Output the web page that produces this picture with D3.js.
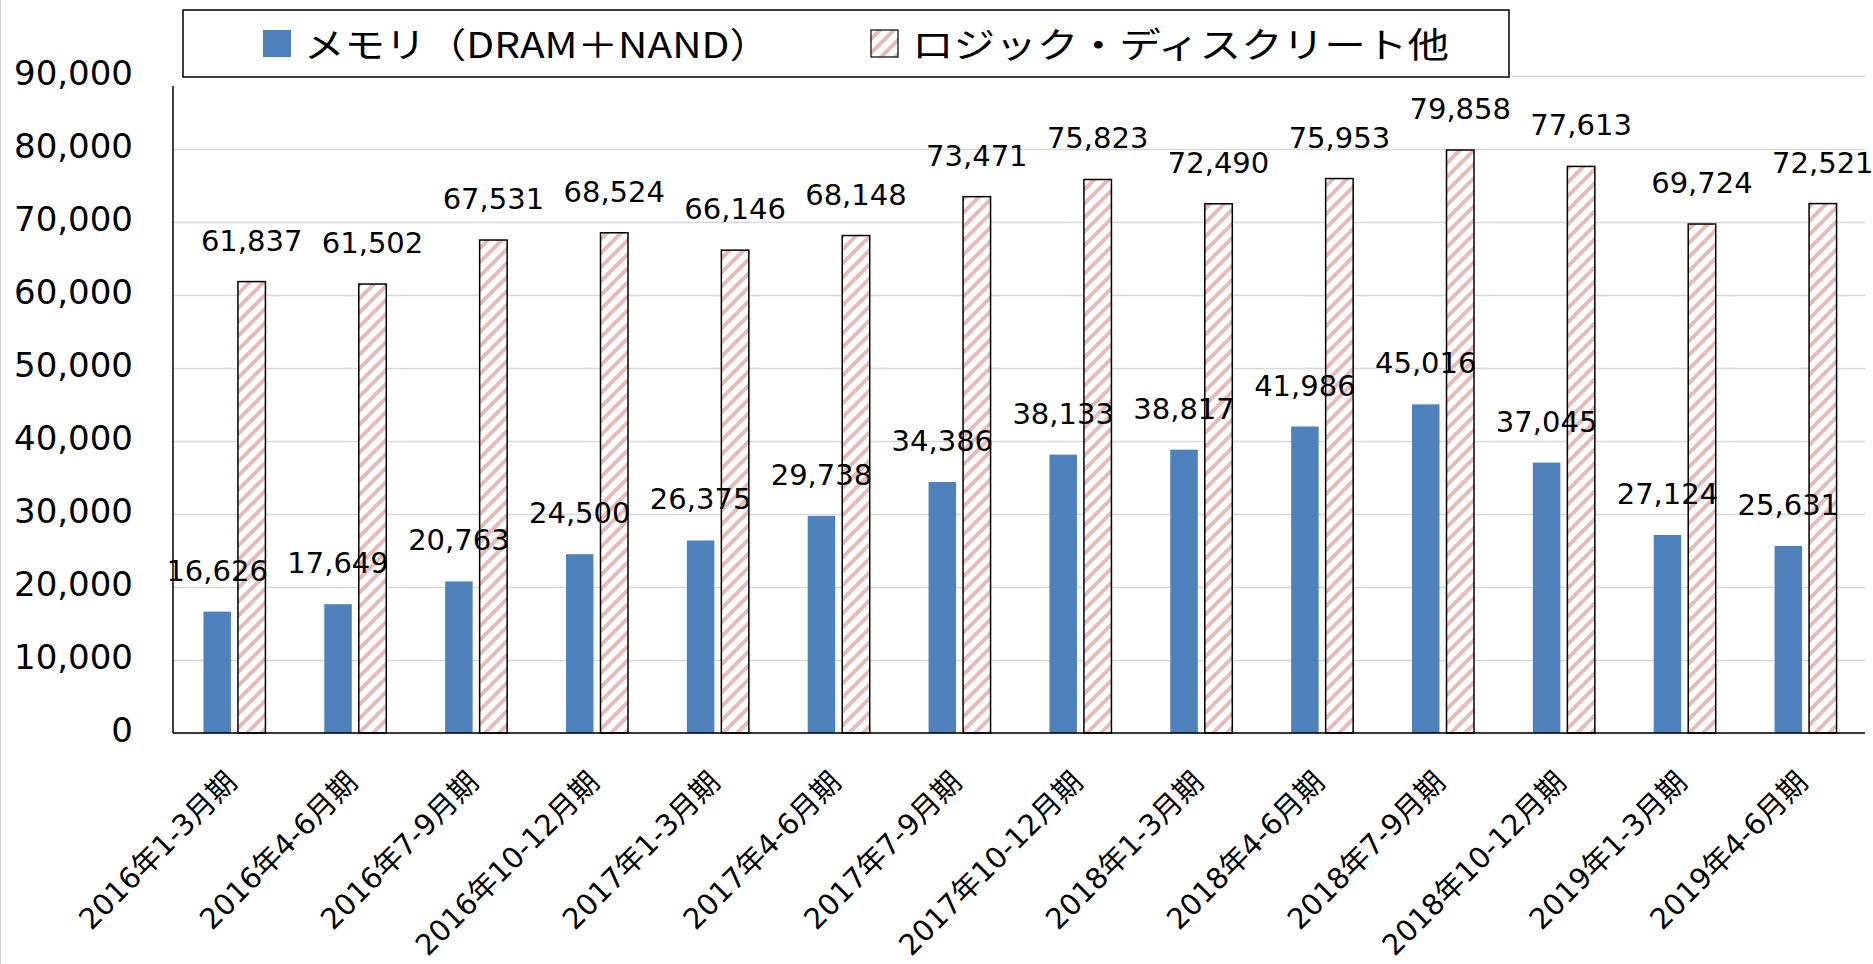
<!DOCTYPE html>
<html>
<head>
<meta charset="utf-8">
<script src="https://cdn.jsdelivr.net/npm/d3@7"></script>
<style>
	body { margin: 0; background: #fff; }
	text { fill: #000; }
</style>
</head>
<body>
<div id="content"></div>
<script>

// quarter labels
var categories = [
	"2016年1-3月期", "2016年4-6月期", "2016年7-9月期", "2016年10-12月期",
	"2017年1-3月期", "2017年4-6月期", "2017年7-9月期", "2017年10-12月期",
	"2018年1-3月期", "2018年4-6月期", "2018年7-9月期", "2018年10-12月期",
	"2019年1-3月期", "2019年4-6月期"
];

var memory = [16626, 17649, 20763, 24500, 26375, 29738, 34386, 38133, 38817, 41986, 45016, 37045, 27124, 25631];
var logic = [61837, 61502, 67531, 68524, 66146, 68148, 73471, 75823, 72490, 75953, 79858, 77613, 69724, 72521];

var seriesNames = ["メモリ（DRAM＋NAND）", "ロジック・ディスクリート他"];
var yTicks = [0, 10000, 20000, 30000, 40000, 50000, 60000, 70000, 80000, 90000];

var numFont = "'DejaVu Sans', Verdana, sans-serif";
var jpFont = "'DejaVu Sans', 'Noto Sans CJK JP', sans-serif";

function main() {
	var svgWidth = 1873;
	var svgHeight = 964;

	var plot = { left: 173, right: 1865, top: 76, bottom: 733 };

	var svg = d3.select("#content")
		.append("svg")
		.attr("width", svgWidth)
		.attr("height", svgHeight);

	// hatch pattern for the logic series
	var step = 14;
	var defs = svg.append("defs");
	var hatch = defs.append("pattern")
		.attr("id", "hatch")
		.attr("patternUnits", "userSpaceOnUse")
		.attr("width", step)
		.attr("height", step);
	hatch.append("rect")
		.attr("width", step)
		.attr("height", step)
		.attr("fill", "#fff");
	hatch.append("path")
		.attr("d", `M-3,3 L3,-3 M0,${step} L${step},0 M${step - 3},${step + 3} L${step + 3},${step - 3}`)
		.attr("stroke", "#e8baba")
		.attr("stroke-width", 4);

	// faint chart border on the left edge
	svg.append("line")
		.attr("x1", 0.5).attr("x2", 0.5)
		.attr("y1", 0).attr("y2", svgHeight)
		.attr("stroke", "#d0d0d0");

	var x = d3.scaleBand()
		.domain(categories)
		.range([plot.left, plot.right]);

	var inner = d3.scaleBand()
		.domain(["memory", "logic"])
		.range([-30, 32])
		.paddingInner(0.203);

	var y = d3.scaleLinear()
		.domain([0, 90000])
		.range([plot.bottom, plot.top]);

	// gridlines
	svg.append("g")
		.attr("transform", `translate(${plot.left}, 0)`)
		.call(d3.axisLeft(y).tickValues(yTicks).tickSize(-(plot.right - plot.left)).tickFormat(""))
		.call(function (g) {
			g.select(".domain").remove();
			g.selectAll("line").attr("stroke", "#d9d9d9").attr("stroke-width", 1.5);
		});

	// y tick labels
	svg.append("g")
		.attr("transform", `translate(${plot.left}, 0)`)
		.call(d3.axisLeft(y).tickValues(yTicks).tickSize(0).tickPadding(40).tickFormat(d3.format(",")))
		.call(function (g) {
			g.select(".domain").remove();
			g.selectAll("text")
				.attr("dy", "0.24em")
				.style("font-family", numFont)
				.style("font-size", "34px")
				.attr("fill", "#000");
		});

	var rows = categories.map(function (c, i) {
		return { cat: c, memory: memory[i], logic: logic[i] };
	});

	// memory bars
	svg.append("g")
		.selectAll("rect")
		.data(rows)
		.enter()
		.append("rect")
		.attr("x", function (d) { return x(d.cat) + x.bandwidth() / 2 + inner("memory"); })
		.attr("y", function (d) { return y(d.memory); })
		.attr("width", inner.bandwidth())
		.attr("height", function (d) { return y(0) - y(d.memory); })
		.attr("fill", "#4f81bd");

	// logic bars
	svg.append("g")
		.selectAll("rect")
		.data(rows)
		.enter()
		.append("rect")
		.attr("x", function (d) { return x(d.cat) + x.bandwidth() / 2 + inner("logic"); })
		.attr("y", function (d) { return y(d.logic); })
		.attr("width", inner.bandwidth())
		.attr("height", function (d) { return y(0) - y(d.logic); })
		.attr("fill", "url(#hatch)")
		.attr("stroke", "#000")
		.attr("stroke-width", 1.5);

	// axis lines
	svg.append("line")
		.attr("x1", plot.left).attr("x2", plot.left)
		.attr("y1", plot.top).attr("y2", plot.bottom)
		.attr("stroke", "#000").attr("stroke-width", 1.5);
	svg.append("line")
		.attr("x1", plot.left).attr("x2", plot.right)
		.attr("y1", plot.bottom).attr("y2", plot.bottom)
		.attr("stroke", "#000").attr("stroke-width", 1.5);

	// value labels
	["memory", "logic"].forEach(function (key) {
		svg.append("g")
			.selectAll("text")
			.data(rows)
			.enter()
			.append("text")
			.attr("x", function (d) { return x(d.cat) + x.bandwidth() / 2 + inner(key) + inner.bandwidth() / 2; })
			.attr("y", function (d) { return y(d[key]) - 31; })
			.attr("text-anchor", "middle")
			.style("font-family", numFont)
			.style("font-size", "29px")
			.text(function (d) { return d3.format(",")(d[key]); });
	});

	// rotated category labels
	svg.append("g")
		.selectAll("text")
		.data(categories)
		.enter()
		.append("text")
		.attr("transform", function (d) {
			return `translate(${x(d) + x.bandwidth() / 2 + 5}, ${plot.bottom + 51}) rotate(-45)`;
		})
		.attr("text-anchor", "end")
		.style("font-family", jpFont)
		.style("font-size", "29px")
		.text(function (d) { return d; });

	// legend (white backing hides the top of the axis, like the source)
	var legend = svg.append("g");
	legend.append("rect")
		.attr("x", 160).attr("y", 0)
		.attr("width", 1352).attr("height", 86)
		.attr("fill", "#fff");
	legend.append("rect")
		.attr("x", 183).attr("y", 10)
		.attr("width", 1326).attr("height", 67)
		.attr("fill", "#fff")
		.attr("stroke", "#000")
		.attr("stroke-width", 1.5);

	legend.append("rect")
		.attr("x", 263).attr("y", 30)
		.attr("width", 28).attr("height", 27)
		.attr("fill", "#4f81bd");
	legend.append("text")
		.attr("x", 304).attr("y", 58)
		.attr("textLength", 466)
		.attr("lengthAdjust", "spacingAndGlyphs")
		.style("font-family", "'Noto Sans CJK JP', sans-serif")
		.style("font-size", "35px")
		.text(seriesNames[0]);

	legend.append("rect")
		.attr("x", 871).attr("y", 30)
		.attr("width", 27).attr("height", 27)
		.attr("fill", "url(#hatch)")
		.attr("stroke", "#000")
		.attr("stroke-width", 1.2);
	legend.append("text")
		.attr("x", 912).attr("y", 58)
		.attr("textLength", 537)
		.attr("lengthAdjust", "spacingAndGlyphs")
		.style("font-family", "'Noto Sans CJK JP', sans-serif")
		.style("font-size", "35px")
		.text(seriesNames[1]);
}

(() => {
	main();
})()
</script>
</body>
</html>
